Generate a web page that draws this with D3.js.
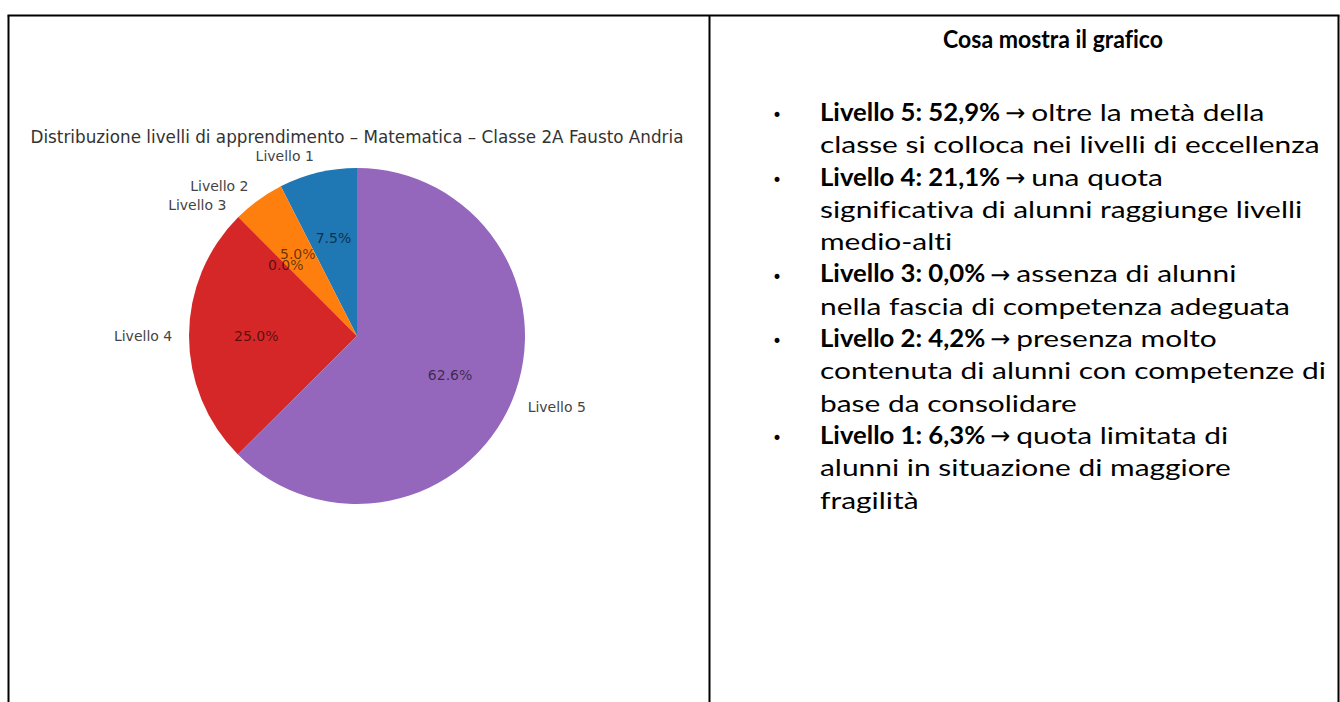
<!DOCTYPE html>
<html>
<head>
<meta charset="utf-8">
<script src="https://cdn.jsdelivr.net/npm/d3@7"></script>
<style>
  body { margin: 0; background: #fff; }
  svg { display: block; }
  text { font-variant-ligatures: none; }
</style>
</head>
<body>
<div id="canvas"></div>
<script>
// data
const levels = ["Livello 1", "Livello 2", "Livello 3", "Livello 4", "Livello 5"];
const shares = [7.5, 5.0, 0.0, 25.0, 62.6];
const sliceColors = ["#1f77b4", "#ff7f0e", "#2ca02c", "#d62728", "#9467bd"];
const chartTitle = "Distribuzione livelli di apprendimento \u2013 Matematica \u2013 Classe 2A Fausto Andria";

const panelTitle = "Cosa mostra il grafico";
const noteHeads = ["Livello 5: 52,9%", "Livello 4: 21,1%", "Livello 3: 0,0%", "Livello 2: 4,2%", "Livello 1: 6,3%"];
const noteLines = [
  ["oltre la metà della", "classe si colloca nei livelli di eccellenza"],
  ["una quota", "significativa di alunni raggiunge livelli", "medio-alti"],
  ["assenza di alunni", "nella fascia di competenza adeguata"],
  ["presenza molto", "contenuta di alunni con competenze di", "base da consolidare"],
  ["quota limitata di", "alunni in situazione di maggiore", "fragilità"]
];

const width = 1340;
const height = 702;

const svg = d3.select("#canvas").append("svg")
  .attr("width", width)
  .attr("height", height);

svg.append("rect").attr("width", width).attr("height", height).attr("fill", "#fff");

// table borders
const topY = 15.5, leftX = 8.5, midX = 709.5, rightX = 1338.5;
const borders = svg.append("g").attr("stroke", "#000").attr("stroke-width", 2);
borders.append("line").attr("x1", leftX - 1).attr("x2", rightX + 1).attr("y1", topY).attr("y2", topY);
[leftX, midX, rightX].forEach(x => {
  borders.append("line").attr("x1", x).attr("x2", x).attr("y1", topY).attr("y2", height);
});

// ---- pie (matplotlib style, startangle 90, counter clockwise)
const cx = 357, cy = 336, r = 168;
const g = svg.append("g").attr("transform", `translate(${cx},${cy})`);

const pie = d3.pie().sort(null).value(d => d).startAngle(0).endAngle(-2 * Math.PI);
const arcs = pie(shares);
const arc = d3.arc().innerRadius(0).outerRadius(r);
const labelArc = d3.arc().innerRadius(r * 1.1).outerRadius(r * 1.1);
const pctArc = d3.arc().innerRadius(r * 0.6).outerRadius(r * 0.6);
const fmt = d3.format(".1f");

g.selectAll("path.slice")
  .data(arcs)
  .join("path")
  .attr("class", "slice")
  .attr("d", arc)
  .attr("fill", (d, i) => sliceColors[i]);

g.selectAll("text.lbl")
  .data(arcs)
  .join("text")
  .attr("class", "lbl")
  .attr("x", d => labelArc.centroid(d)[0])
  .attr("y", d => labelArc.centroid(d)[1])
  .attr("text-anchor", d => labelArc.centroid(d)[0] > 0 ? "start" : "end")
  .attr("dominant-baseline", "central")
  .style("font-family", "DejaVu Sans")
  .style("font-size", "14px")
  .attr("fill", "#444")
  .text((d, i) => levels[i]);

g.selectAll("text.pct")
  .data(arcs)
  .join("text")
  .attr("class", "pct")
  .attr("x", d => pctArc.centroid(d)[0])
  .attr("y", d => pctArc.centroid(d)[1])
  .attr("text-anchor", "middle")
  .attr("dominant-baseline", "central")
  .style("font-family", "DejaVu Sans")
  .style("font-size", "14px")
  .attr("fill", "#000")
  .attr("fill-opacity", 0.6)
  .text(d => fmt(d.data) + "%");

svg.append("text")
  .attr("x", cx)
  .attr("y", 143)
  .attr("text-anchor", "middle")
  .style("font-family", "DejaVu Sans")
  .style("font-size", "16.8px")
  .attr("fill", "#333")
  .text(chartTitle);

// ---- right panel text
const font = "Lato, 'Open Sans', sans-serif";
const fontSize = 24;
const textX = 820, bulletX = 777;
const lineH = 32.3, firstBase = 121;

const txt = svg.append("g").attr("transform", `translate(${textX},0)`);
const lineNodes = [];
const firstRows = [];
let row = 0;
noteHeads.forEach((head, i) => {
  const y = firstBase + row * lineH;
  svg.append("text")
    .attr("x", bulletX).attr("y", y)
    .attr("text-anchor", "middle")
    .style("font-family", "'DejaVu Sans'").style("font-size", "17px")
    .text("\u2022");
  noteLines[i].forEach((line, j) => {
    const yy = firstBase + row * lineH;
    if (j === 0) {
      firstRows.push({ head, line, y: yy });
    } else {
      const t = txt.append("text")
        .attr("x", 0)
        .attr("y", yy)
        .style("font-family", font)
        .style("font-size", fontSize + "px")
        .attr("fill", "#000")
        .text(line);
      lineNodes.push(t.node());
    }
    row++;
  });
});

// squeeze to the narrow face of the original
const widest = d3.max(lineNodes, n => n.getComputedTextLength());
const f = 506 / widest;
txt.attr("transform", `translate(${textX},0) scale(${f},1)`);

// first row of each point: bold head, arrow, then the text
const fb = f * 0.86;
firstRows.forEach(d => {
  const hg = svg.append("g").attr("transform", `translate(${textX},0) scale(${fb},1)`);
  const hn = hg.append("text")
    .attr("x", 0).attr("y", d.y)
    .style("font-family", font)
    .style("font-size", fontSize + "px")
    .style("font-weight", "bold")
    .text(d.head).node();
  const headEnd = textX + hn.getComputedTextLength() * fb;
  const an = svg.append("text")
    .attr("x", headEnd + 5).attr("y", d.y)
    .style("font-family", "'DejaVu Sans'")
    .style("font-size", "24px")
    .text("\u2192").node();
  const restX = headEnd + 5 + an.getComputedTextLength() + 6;
  svg.append("g").attr("transform", `translate(${restX},0) scale(${f},1)`)
    .append("text")
    .attr("x", 0).attr("y", d.y)
    .style("font-family", font)
    .style("font-size", fontSize + "px")
    .text(d.line);
});

const head = svg.append("g");
const headText = head.append("text")
  .attr("x", 0).attr("y", 48)
  .attr("text-anchor", "middle")
  .style("font-family", font)
  .style("font-size", fontSize + "px")
  .style("font-weight", "bold")
  .text(panelTitle);
const f2 = 220 / headText.node().getComputedTextLength();
head.attr("transform", `translate(1053,0) scale(${f2},1)`);
</script>
</body>
</html>
